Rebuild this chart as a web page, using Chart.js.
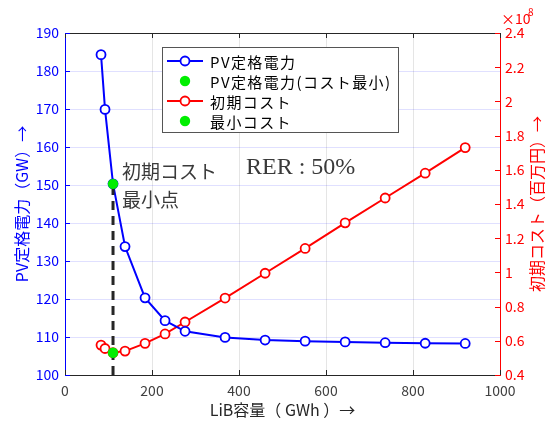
<!DOCTYPE html>
<html>
<head>
<meta charset="utf-8">
<script src="https://cdn.jsdelivr.net/npm/chart.js@4.4.0/dist/chart.umd.min.js"></script>
<style>
  html, body { margin: 0; padding: 0; background: #fff; }
  #wrap { width: 552px; height: 424px; }
</style>
</head>
<body>
<div id="wrap"><canvas id="chartCanvas" width="552" height="424"></canvas></div>
<script>
// LiB capacity (GWh) and the two series
const libCapacity = [82.8, 92, 110.4, 138, 184, 230, 276, 368, 460, 552, 644, 736, 828, 920];
const pvRated = [184.3, 169.9, 150.3, 133.8, 120.3, 114.3, 111.5, 109.9, 109.2, 108.9, 108.7, 108.5, 108.35, 108.3];
const initCost = [0.575, 0.555, 0.53, 0.54, 0.585, 0.64, 0.71, 0.85, 0.995, 1.14, 1.29, 1.435, 1.58, 1.73]; // x 1e8
const minIndex = 2;

const xTicks = [0, 200, 400, 600, 800, 1000];
const leftTicks = [100, 110, 120, 130, 140, 150, 160, 170, 180, 190];
const rightTicks = [0.4, 0.6, 0.8, 1.0, 1.2, 1.4, 1.6, 1.8, 2.0, 2.2, 2.4];

const legendLabels = ["PV定格電力", "PV定格電力(コスト最小)", "初期コスト", "最小コスト"];
const xTitle = "LiB容量（ GWh ）→";
const leftTitle = "PV定格電力（GW）→";
const rightTitle = "初期コスト（百万円）→";
const noteMin = ["初期コスト", "最小点"];
const noteRer = "RER : 50%";

const BLUE = "#0000ff";
const RED = "#ff0000";
const GREEN = "#00ee00";
const DARK = "#262626";
const JP = "'Noto Sans CJK JP', 'Noto Sans', sans-serif";

const pts = (xs, ys) => xs.map((x, i) => ({ x: x, y: ys[i] }));

const decorations = {
  id: "decorations",
  afterDraw(chart) {
    const ctx = chart.ctx;
    const { left, right, top, bottom } = chart.chartArea;
    const sx = chart.scales.x, sy = chart.scales.y, sy1 = chart.scales.y1;
    ctx.save();

    // top box edge
    ctx.strokeStyle = DARK;
    ctx.lineWidth = 1;
    ctx.beginPath();
    ctx.moveTo(left, top + 0.5);
    ctx.lineTo(right, top + 0.5);
    ctx.stroke();

    // inward ticks
    const tl = 5;
    ctx.beginPath();
    xTicks.forEach(v => {
      const px = Math.round(sx.getPixelForValue(v)) + 0.5;
      ctx.moveTo(px, bottom); ctx.lineTo(px, bottom - tl);
      ctx.moveTo(px, top); ctx.lineTo(px, top + tl);
    });
    ctx.stroke();
    ctx.strokeStyle = BLUE;
    ctx.beginPath();
    leftTicks.forEach(v => {
      const py = Math.round(sy.getPixelForValue(v)) + 0.5;
      ctx.moveTo(left, py); ctx.lineTo(left + tl, py);
    });
    ctx.stroke();
    ctx.strokeStyle = RED;
    ctx.beginPath();
    rightTicks.forEach(v => {
      const py = Math.round(sy1.getPixelForValue(v)) + 0.5;
      ctx.moveTo(right, py); ctx.lineTo(right - tl, py);
    });
    ctx.stroke();

    // right axis title, reading bottom to top
    ctx.fillStyle = RED;
    ctx.font = "16px " + JP;
    ctx.textAlign = "center";
    ctx.textBaseline = "middle";
    ctx.save();
    ctx.translate(537, (top + bottom) / 2);
    ctx.rotate(-Math.PI / 2);
    ctx.fillText(rightTitle, 0, 0);
    ctx.restore();

    // exponent label
    ctx.textAlign = "left";
    ctx.font = "14px " + JP;
    ctx.fillText("×10", right + 1, 19);
    ctx.font = "10px " + JP;
    ctx.fillText("8", right + 28, 12);

    // annotations
    const gx = sx.getPixelForValue(libCapacity[minIndex]);
    const gy = sy.getPixelForValue(pvRated[minIndex]);
    ctx.fillStyle = "#3a3a3a";
    ctx.font = "19px " + JP;
    ctx.fillText(noteMin[0], gx + 9, gy - 12);
    ctx.fillText(noteMin[1], gx + 9, gy + 16);
    ctx.font = "24px 'Liberation Serif', serif";
    ctx.fillText(noteRer, 246, 168);

    // legend box
    const bx = 162.5, by = 47.5, bw = 236, bh = 85;
    ctx.fillStyle = "#ffffff";
    ctx.fillRect(bx, by, bw, bh);
    ctx.strokeStyle = "#555555";
    ctx.lineWidth = 1;
    ctx.strokeRect(bx, by, bw, bh);
    const ds = chart.data.datasets;
    legendLabels.forEach((lab, i) => {
      const d = ds.find(s => s.label === lab);
      const ry = by + 13.5 + i * 20;
      const mx = bx + 22.5;
      if (d.showLine !== false) {
        ctx.strokeStyle = d.borderColor;
        ctx.lineWidth = d.borderWidth;
        ctx.beginPath();
        ctx.moveTo(bx + 4.5, ry);
        ctx.lineTo(bx + 40.5, ry);
        ctx.stroke();
      }
      ctx.beginPath();
      ctx.arc(mx, ry, d.pointRadius, 0, Math.PI * 2);
      ctx.fillStyle = d.pointBackgroundColor;
      ctx.fill();
      if (d.pointBorderWidth > 0) {
        ctx.strokeStyle = d.pointBorderColor;
        ctx.lineWidth = d.pointBorderWidth;
        ctx.stroke();
      }
      ctx.fillStyle = "#000000";
      ctx.font = "15px " + JP;
      ctx.letterSpacing = "1.4px";
      ctx.textBaseline = "middle";
      ctx.fillText(lab, bx + 47.5, ry + 1);
      ctx.letterSpacing = "0px";
    });

    ctx.restore();
  }
};

new Chart(document.getElementById("chartCanvas"), {
  type: "line",
  data: {
    datasets: [
      {
        label: "PV定格電力(コスト最小)",
        data: pts([libCapacity[minIndex]], [pvRated[minIndex]]),
        yAxisID: "y",
        showLine: false,
        pointRadius: 5.2,
        pointBackgroundColor: GREEN,
        pointBorderColor: GREEN,
        pointBorderWidth: 0,
        order: 0
      },
      {
        label: "最小コスト",
        data: pts([libCapacity[minIndex]], [initCost[minIndex]]),
        yAxisID: "y1",
        showLine: false,
        pointRadius: 5.2,
        pointBackgroundColor: GREEN,
        pointBorderColor: GREEN,
        pointBorderWidth: 0,
        order: 0
      },
      {
        label: "min-line",
        data: pts([libCapacity[minIndex], libCapacity[minIndex]], [leftTicks[0], pvRated[minIndex]]),
        yAxisID: "y",
        borderColor: DARK,
        borderWidth: 3,
        borderDash: [9, 6],
        pointRadius: 0,
        order: 1
      },
      {
        label: "PV定格電力",
        data: pts(libCapacity, pvRated),
        yAxisID: "y",
        borderColor: BLUE,
        borderWidth: 2,
        pointRadius: 4.5,
        pointBorderWidth: 1.8,
        pointBorderColor: BLUE,
        pointBackgroundColor: "#ffffff",
        order: 2
      },
      {
        label: "初期コスト",
        data: pts(libCapacity, initCost),
        yAxisID: "y1",
        borderColor: RED,
        borderWidth: 2,
        pointRadius: 4.5,
        pointBorderWidth: 1.8,
        pointBorderColor: RED,
        pointBackgroundColor: "#ffffff",
        order: 3
      }
    ]
  },
  options: {
    responsive: false,
    devicePixelRatio: 1,
    animation: false,
    layout: { padding: { top: 33, left: 0, right: 0, bottom: 0 } },
    plugins: { legend: { display: false }, tooltip: { enabled: false } },
    scales: {
      x: {
        type: "linear",
        min: 0,
        max: 1000,
        afterBuildTicks: s => { s.ticks = xTicks.map(v => ({ value: v })); },
        afterFit: s => { s.height = 49; },
        ticks: { color: "#404040", font: { size: 14, family: JP }, padding: 7, callback: v => String(v) },
        grid: { color: "rgba(38,38,38,0.12)", drawTicks: false },
        border: { color: DARK, width: 1 },
        title: { display: true, text: xTitle, color: DARK, font: { size: 16, family: JP }, padding: { top: 0, bottom: 4 } }
      },
      y: {
        position: "left",
        min: 100,
        max: 190,
        afterBuildTicks: s => { s.ticks = leftTicks.map(v => ({ value: v })); },
        afterFit: s => { s.width = 65; },
        ticks: { color: BLUE, font: { size: 14, family: JP }, padding: 6, callback: v => String(v) },
        grid: { color: "rgba(0,0,255,0.12)", drawTicks: false },
        border: { color: BLUE, width: 1 },
        title: { display: true, text: leftTitle, color: BLUE, font: { size: 16, family: JP }, padding: { top: 12, bottom: 0 } }
      },
      y1: {
        position: "right",
        min: 0.4,
        max: 2.4,
        afterBuildTicks: s => { s.ticks = rightTicks.map(v => ({ value: v })); },
        afterFit: s => { s.width = 52; },
        ticks: {
          color: RED,
          font: { size: 14, family: JP },
          padding: 5,
          callback: v => String(Number(v.toFixed(1)))
        },
        grid: { display: false, drawTicks: false },
        border: { color: RED, width: 1 }
      }
    }
  },
  plugins: [decorations]
});
</script>
</body>
</html>
